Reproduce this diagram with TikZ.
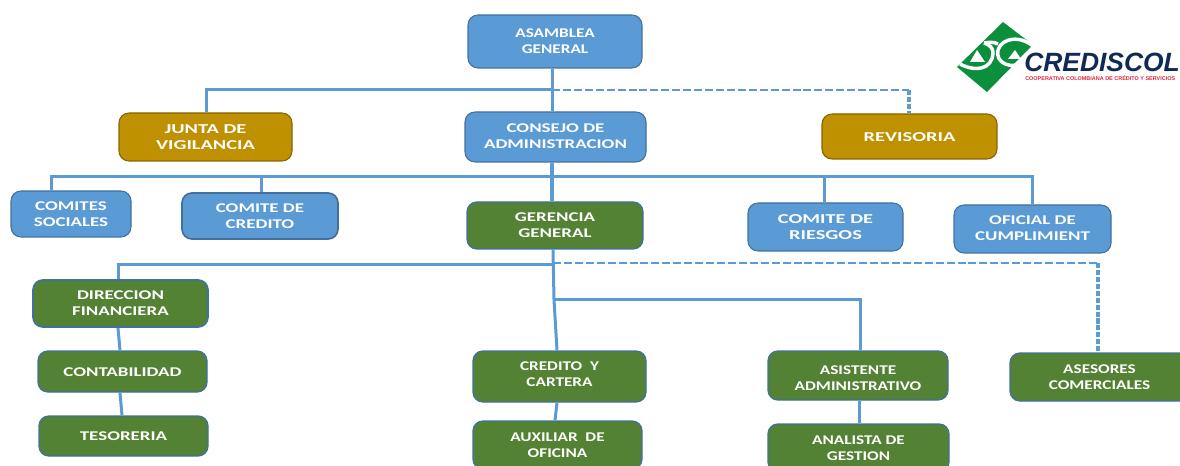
\documentclass[tikz,border=0pt]{standalone}
\usepackage{fontspec}
\setmainfont{Carlito}
\newfontfamily\fa{Carlito}[FakeStretch=1.29]
\newfontfamily\fb{Carlito}[FakeStretch=1.42]
\newfontfamily\fc{Carlito}[FakeStretch=1.50]
\newfontfamily\logofont{Liberation Sans}
\definecolor{bluebox}{HTML}{5B9BD5}
\definecolor{blueedge}{HTML}{41719C}
\definecolor{greenbox}{HTML}{548235}
\definecolor{goldbox}{HTML}{BF9000}
\definecolor{logogreen}{HTML}{0B8F3C}
\definecolor{lognavy}{HTML}{0F2A55}
\definecolor{logored}{HTML}{D8283C}
\newcommand{\dn}[1]{\rule{0pt}{\dimexpr 6.4pt+#1*2\relax}}
\newcommand{\upb}[1]{\rule[\dimexpr -#1*2\relax]{0pt}{0pt}}
\tikzset{
  x=0.75pt,y=-0.75pt,
  boxbase/.style={rounded corners=7.5pt,align=center,text=white,inner sep=0pt,draw=blueedge,line width=0.8pt},
  narrowtext/.style={font=\fa\bfseries\fontsize{10}{12}\selectfont},
  midtext/.style={font=\fb\bfseries\fontsize{10}{12}\selectfont},
  widetext/.style={font=\fc\bfseries\fontsize{10.2}{12.2}\selectfont},
  bluenode/.style={boxbase,fill=bluebox},
  greennode/.style={boxbase,fill=greenbox,line width=1pt},
  goldnode/.style={boxbase,fill=goldbox,draw=goldbox!70!black},
  link/.style={draw=bluebox,line width=2.25pt},
  dashlink/.style={draw=bluebox,line width=2pt,dash pattern=on 6pt off 2.2pt},
  dashvert/.style={draw=bluebox,line width=2.4pt,dash pattern=on 3.8pt off 1.4pt},
}
\begin{document}
\begin{tikzpicture}
\useasboundingbox (0,0) rectangle (1180,466);
\clip (0,0) rectangle (1180,466);
% junctions
\coordinate (t1) at (552,90);
\coordinate (h1l) at (206,90);
\coordinate (h1r) at (909,90);
\coordinate (t2) at (552,177);
\coordinate (h2a) at (51,177);
\coordinate (h2b) at (261,177);
\coordinate (h2c) at (824,177);
\coordinate (h2d) at (1032,177);
\coordinate (t3) at (553,265);
\coordinate (h3l) at (118,265);
\coordinate (t3d) at (553,263);
\coordinate (h3r) at (1098,263);
\coordinate (t4) at (554,300);
\coordinate (h4) at (860,300);
% nodes
\node[bluenode,narrowtext,minimum width=130.5pt,minimum height=39.75pt] (asamblea) at (555,41.5) {ASAMBLEA\\GENERAL};
\node[goldnode,widetext,minimum width=129.75pt,minimum height=36pt] (junta) at (205.5,137) {JUNTA DE\\VIGILANCIA};
\node[bluenode,midtext,minimum width=135.75pt,minimum height=37.5pt] (consejo) at (555.5,137) {CONSEJO DE\\ADMINISTRACION\upb{0.4pt}};
\node[goldnode,widetext,minimum width=131.25pt,minimum height=33.75pt] (revisoria) at (909.5,136.5) {\dn{0.5pt}REVISORIA};
\node[bluenode,midtext,minimum width=90pt,minimum height=34.5pt] (sociales) at (71,214) {COMITES\\SOCIALES};
\node[bluenode,midtext,line width=1.3pt,minimum width=117pt,minimum height=34.5pt] (credito) at (260,216) {COMITE DE\\CREDITO};
\node[greennode,midtext,minimum width=132pt,minimum height=35.25pt] (gerencia) at (555,225.5) {GERENCIA\\GENERAL};
\node[bluenode,widetext,minimum width=116.25pt,minimum height=36pt] (riesgos) at (825.5,227) {COMITE DE\\RIESGOS};
\node[bluenode,midtext,minimum width=117.75pt,minimum height=36pt] (oficial) at (1032.5,229) {OFICIAL DE\\CUMPLIMIENT\upb{0.75pt}};
\node[greennode,midtext,line width=1.3pt,minimum width=131.25pt,minimum height=35.25pt] (direccion) at (120.5,303.5) {DIRECCION\\FINANCIERA};
\node[greennode,midtext,minimum width=126.75pt,minimum height=30.75pt] (contabilidad) at (122.5,371.5) {\dn{0.6pt}CONTABILIDAD};
\node[greennode,midtext,minimum width=126.75pt,minimum height=30pt] (tesoreria) at (123.5,436) {TESORERIA};
\node[greennode,narrowtext,minimum width=129.75pt,minimum height=38.25pt] (cartera) at (559.5,376.5) {CREDITO\ \ Y\\CARTERA\upb{1.5pt}};
\node[greennode,narrowtext,minimum width=126.75pt,minimum height=36pt] (auxiliar) at (557.5,445) {AUXILIAR\ \ DE\\OFICINA};
\node[greennode,narrowtext,minimum width=135pt,minimum height=36.75pt] (asistente) at (858,375.5) {\dn{1.9pt}ASISTENTE\\ADMINISTRATIVO};
\node[greennode,narrowtext,minimum width=135.75pt,minimum height=36pt] (analista) at (858.5,448) {ANALISTA DE\\GESTION};
\node[greennode,narrowtext,minimum width=134.25pt,minimum height=36pt] (asesores) at (1099.5,377) {ASESORES\\COMERCIALES};
% connectors
\draw[link] (asamblea.south -| t1) -- (consejo.north -| t1);
\draw[link] (junta.north -| h1l) -- (h1l) -- (t1);
\draw[dashlink] (t1) -- (h1r);
\draw[dashvert] (h1r) -- (revisoria.north -| h1r);
\draw[link,line width=2.8pt] (consejo.south -| t2) -- (gerencia.north -| t2);
\draw[link] (sociales.north -| h2a) -- (h2a) -- (h2d) -- (oficial.north -| h2d);
\draw[link] (h2b) -- (credito.north -| h2b);
\draw[link] (h2c) -- (riesgos.north -| h2c);
\draw[link] (direccion.north -| h3l) -- (h3l) -- (t3);
\draw[dashlink] (t3d) -- (h3r);
\draw[dashvert] (h3r) -- (asesores.north -| h3r);
\draw[link] (gerencia.south -| t3) -- (t4) -- (cartera.north -| 557,0);
\draw[link] (t4) -- (h4) -- (asistente.north -| h4);
\draw[link] (asistente.south -| 859,0) -- (analista.north -| 859,0);
\draw[link] (cartera.south -| 557,0) -- (auxiliar.north -| 555,0);
\draw[link] (direccion.south -| 118,0) -- (contabilidad.north -| 120,0);
\draw[link] (contabilidad.south -| 120,0) -- (tesoreria.north -| 122,0);
% logo
\fill[logogreen] (1003,22) -- (1033,45) -- (987,92) -- (957,67) -- cycle;
\draw[white,line width=2.6pt] (960,64) .. controls (975,72) and (992,70) .. (993,53) .. controls (993,48) and (990,45) .. (984,43);
\draw[white,line width=2.6pt] (984,43) .. controls (990,42) and (994,42) .. (998,44);
\draw[white,line width=2.6pt] (1035,48) .. controls (1022,35) and (1002,37) .. (998,50) .. controls (995,62) and (1010,72) .. (1028,60);
\fill[white] (970,62) -- (977,50) -- (985,62) -- cycle;
\fill[white] (1008,59) -- (1015,50) -- (1021,59) -- cycle;
\fill[white] (1033,45) -- (1040,50) -- (1022,72) -- (1012,66) -- (1024,54) -- cycle;
\node[anchor=west,inner sep=0pt,text=lognavy,font=\logofont\bfseries\itshape\fontsize{19.8}{20}\selectfont] (logoname) at (1024,62) {CREDISCOL};
\node[anchor=west,inner sep=0pt,text=logored,font=\logofont\bfseries\fontsize{4.1}{4.2}\selectfont] (logosub) at (1025,78.5) {COOPERATIVA COLOMBIANA DE CRÉDITO Y SERVICIOS};
\end{tikzpicture}
\end{document}
